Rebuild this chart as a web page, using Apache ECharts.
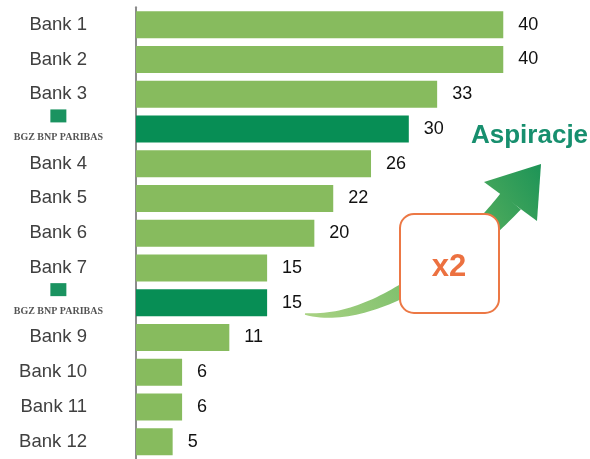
<!DOCTYPE html>
<html>
<head>
<meta charset="utf-8">
<script src="https://cdn.jsdelivr.net/npm/echarts@6/dist/echarts.min.js"></script>
<style>html,body{margin:0;padding:0;background:#fff;}#c{width:590px;height:459px;}</style>
</head>
<body>
<div id="c"></div>
<script>
const categories = ['Bank 1', 'Bank 2', 'Bank 3', 'BGZ BNP PARIBAS', 'Bank 4', 'Bank 5', 'Bank 6', 'Bank 7', 'BGZ BNP PARIBAS', 'Bank 9', 'Bank 10', 'Bank 11', 'Bank 12'];
const values = [40, 40, 33, 30, 26, 22, 20, 15, 15, 11, 6, 6, 5];
const highlightName = 'BGZ BNP PARIBAS';
const annotationTitle = 'Aspiracje';
const annotationMultiplier = 'x2';

const FONT = 'Liberation Sans, Arial, sans-serif';
const LIGHT = '#87BB5E';
const DARK = '#078E55';

const chart = echarts.init(document.getElementById('c'), null, {renderer: 'canvas'});

// Decorative curved arrow (annotation, not data)
function bez(p0, p1, p2, p3, s) {
  const u = 1 - s;
  return [
    u*u*u*p0[0] + 3*u*u*s*p1[0] + 3*u*s*s*p2[0] + s*s*s*p3[0],
    u*u*u*p0[1] + 3*u*u*s*p1[1] + 3*u*s*s*p2[1] + s*s*s*p3[1]
  ];
}
const P0 = [305, 314], C1 = [380, 326], C2 = [470, 249], P3 = [511, 201];
const leftSide = [], rightSide = [];
const N = 60;
for (let i = 0; i <= N; i++) {
  const s = i / N;
  const p = bez(P0, C1, C2, P3, s);
  const q = bez(P0, C1, C2, P3, Math.min(1, s + 0.001));
  const r = bez(P0, C1, C2, P3, Math.max(0, s - 0.001));
  let dx = q[0] - r[0], dy = q[1] - r[1];
  const len = Math.sqrt(dx*dx + dy*dy) || 1;
  dx /= len; dy /= len;
  const w = 1.5 + 24.5 * Math.pow(s, 0.8);
  leftSide.push([p[0] - dy * w / 2, p[1] + dx * w / 2]);
  rightSide.push([p[0] + dy * w / 2, p[1] - dx * w / 2]);
}
const shaft = leftSide.concat(rightSide.reverse());
const grad = () => new echarts.graphic.LinearGradient(305, 314, 540, 165, [
  {offset: 0, color: '#A9D283'},
  {offset: 0.6, color: '#62B45E'},
  {offset: 1, color: '#1E9457'}
], true);

const option = {
  animation: false,
  backgroundColor: '#ffffff',
  grid: {left: 136, right: 39.5, top: 7.3, height: 456.8, containLabel: false},
  xAxis: {type: 'value', min: 1.12, max: 45, show: false},
  yAxis: {
    type: 'category',
    data: categories,
    inverse: true,
    axisTick: {show: false},
    axisLine: {lineStyle: {color: '#8c8c8c', width: 2}},
    axisLabel: {
      interval: 0,
      margin: 33,
      formatter: function (v) {
        return v === highlightName ? '{sq|}\n{bgz|' + v + '}' : '{b|' + v + '}{sp|}';
      },
      rich: {
        b: {fontSize: 18.5, fontFamily: FONT, color: '#404040', lineHeight: 22},
        sp: {width: 16},
        sq: {width: 16, height: 13, backgroundColor: '#1A9360', lineHeight: 18, align: 'center'},
        bgz: {fontSize: 10, fontFamily: 'Liberation Serif, serif', fontWeight: 'bold', color: '#555555', lineHeight: 26}
      }
    }
  },
  series: [{
    type: 'bar',
    barWidth: 27,
    clip: true,
    data: values.map((v, i) => ({
      value: v,
      itemStyle: {color: categories[i] === highlightName ? DARK : LIGHT}
    })),
    label: {
      show: true,
      position: 'right',
      distance: 15,
      fontSize: 18,
      fontFamily: FONT,
      color: '#111111'
    }
  }],
  graphic: {
    elements: [
      {type: 'polygon', shape: {points: shaft}, style: {fill: grad()}, z: 10},
      {type: 'polygon', shape: {points: [[484, 182], [541, 164], [537, 221]]}, style: {fill: grad()}, z: 10},
      {type: 'rect', shape: {x: 400, y: 214, width: 99, height: 99, r: 14},
        style: {fill: '#ffffff', stroke: '#EC7845', lineWidth: 2}, z: 11},
      {type: 'text', x: 449, y: 267, z: 12,
        style: {text: annotationMultiplier, fill: '#EC7140', font: 'bold 31px ' + FONT, align: 'center', verticalAlign: 'middle'}},
      {type: 'text', x: 471, y: 136, z: 12,
        style: {text: annotationTitle, fill: '#178F6E', font: 'bold 26px ' + FONT, align: 'left', verticalAlign: 'middle'}}
    ]
  }
};
chart.setOption(option);
</script>
</body>
</html>
